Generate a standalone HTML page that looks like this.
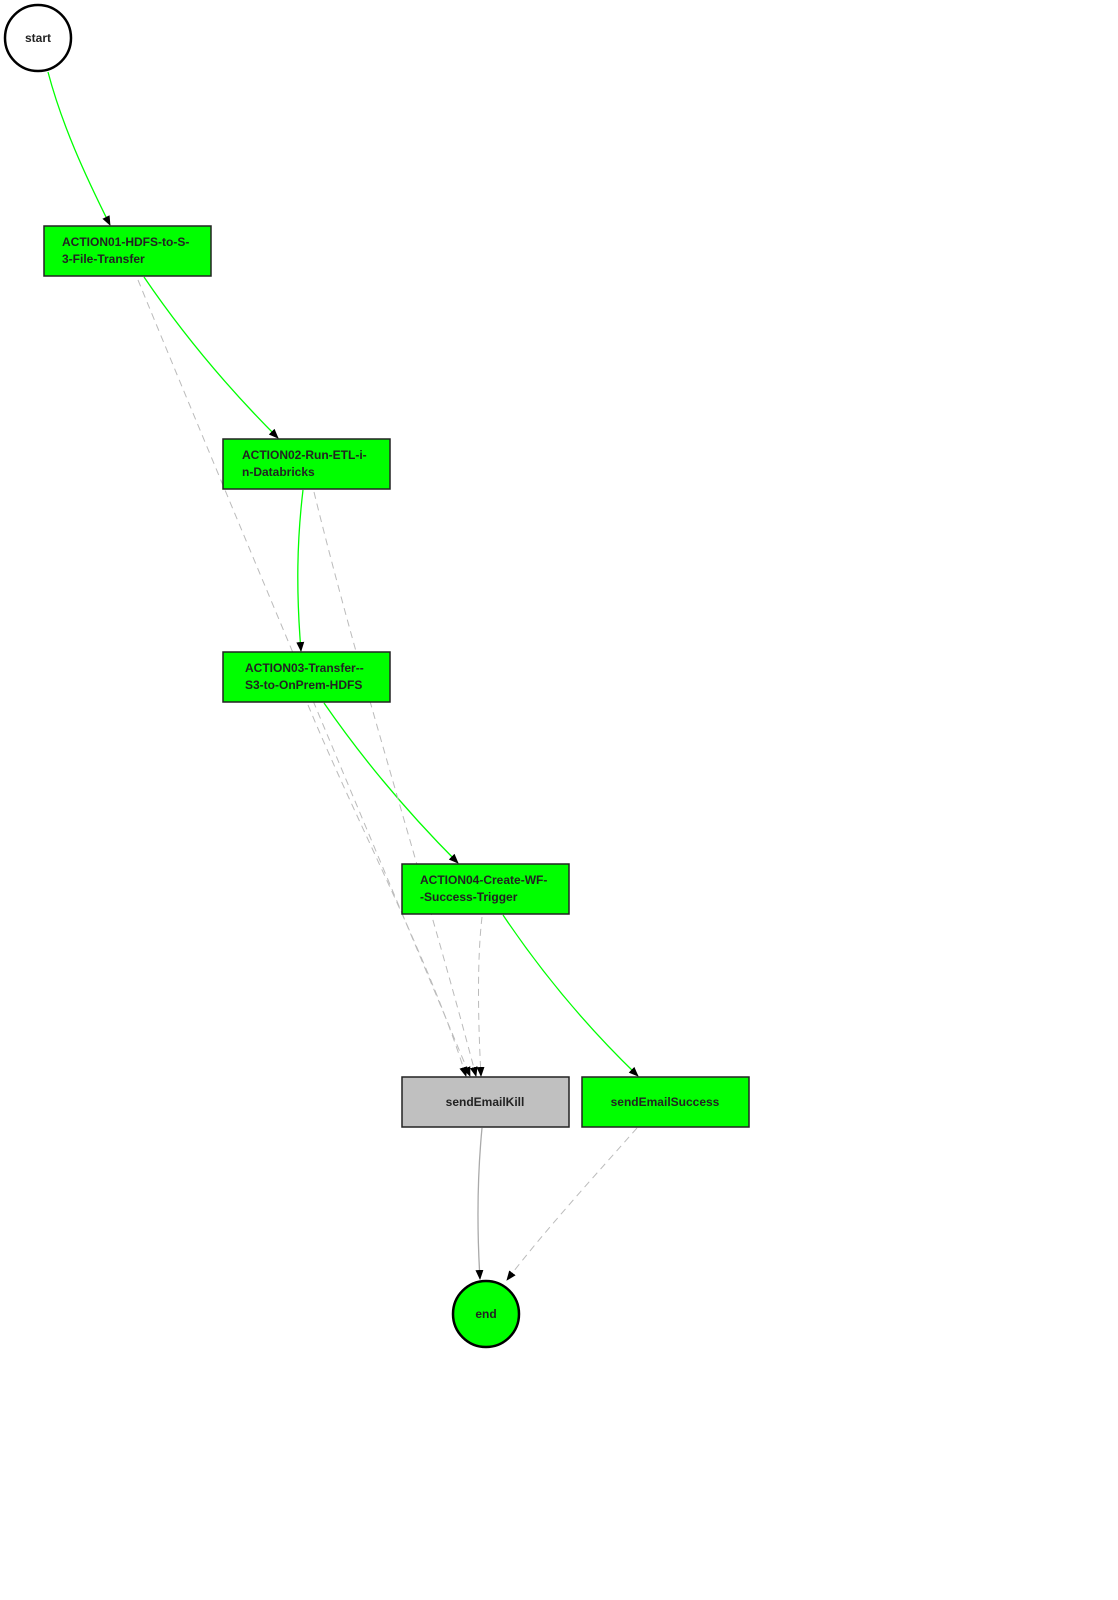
<!DOCTYPE html>
<html><head><meta charset="utf-8"><style>
html,body{margin:0;padding:0;background:#fff;width:1118px;height:1600px;overflow:hidden}
text{font-family:"Liberation Sans",sans-serif;font-size:12px;font-weight:bold;fill:#222}
</style></head><body>
<svg width="1118" height="1600" viewBox="0 0 1118 1600" xmlns="http://www.w3.org/2000/svg">
<defs>
<marker id="a" markerWidth="10" markerHeight="10" refX="9" refY="5" orient="auto" markerUnits="userSpaceOnUse"><path d="M0,1 L10,5 L0,9 z" fill="#000"/></marker>
</defs>
<g fill="none" stroke="#00ff00" stroke-width="1.3">
<path d="M48,72 C62,125 85,175 110,225" marker-end="url(#a)"/>
<path d="M144,277 C180,330 225,385 278,438" marker-end="url(#a)"/>
<path d="M303,490 C297,540 296,590 301,651" marker-end="url(#a)"/>
<path d="M324,703 C360,755 405,810 458,863" marker-end="url(#a)"/>
<path d="M503,915 C540,970 585,1025 638,1076" marker-end="url(#a)"/>
</g>
<g fill="none" stroke="#bbb" stroke-width="1" stroke-dasharray="7,5">
<path d="M138,280 C220,480 380,860 470,1076" marker-end="url(#a)"/>
<path d="M314,492 C360,680 430,900 476,1076" marker-end="url(#a)"/>
<path d="M308,705 C360,830 430,960 466,1076" marker-end="url(#a)"/>
<path d="M482,917 C477,960 478,1020 481,1076" marker-end="url(#a)"/>
<path d="M637,1128 C600,1170 545,1230 507,1280" marker-end="url(#a)"/>
</g>
<path d="M482,1128 C477,1180 477,1230 480,1279" fill="none" stroke="#aaa" stroke-width="1.3" marker-end="url(#a)"/>
<circle cx="38" cy="38" r="33" fill="#fff" stroke="#000" stroke-width="2.5"/>
<text x="38" y="42" text-anchor="middle">start</text>
<circle cx="486" cy="1314" r="33" fill="#00ff00" stroke="#000" stroke-width="2.5"/>
<text x="486" y="1318" text-anchor="middle">end</text>
<g stroke="#222" stroke-width="1.5" fill="#00ff00">
<rect x="44" y="226" width="167" height="50"/>
<rect x="223" y="439" width="167" height="50"/>
<rect x="223" y="652" width="167" height="50"/>
<rect x="402" y="864" width="167" height="50"/>
<rect x="402" y="1077" width="167" height="50" fill="#c0c0c0"/>
<rect x="582" y="1077" width="167" height="50"/>
</g>
<text x="62" y="246">ACTION01-HDFS-to-S-</text><text x="62" y="263">3-File-Transfer</text>
<text x="242" y="459">ACTION02-Run-ETL-i-</text><text x="242" y="476">n-Databricks</text>
<text x="245" y="672">ACTION03-Transfer--</text><text x="245" y="689">S3-to-OnPrem-HDFS</text>
<text x="420" y="884">ACTION04-Create-WF-</text><text x="420" y="901">-Success-Trigger</text>
<text x="485" y="1106" text-anchor="middle">sendEmailKill</text>
<text x="665" y="1106" text-anchor="middle">sendEmailSuccess</text>
</svg>
</body></html>
